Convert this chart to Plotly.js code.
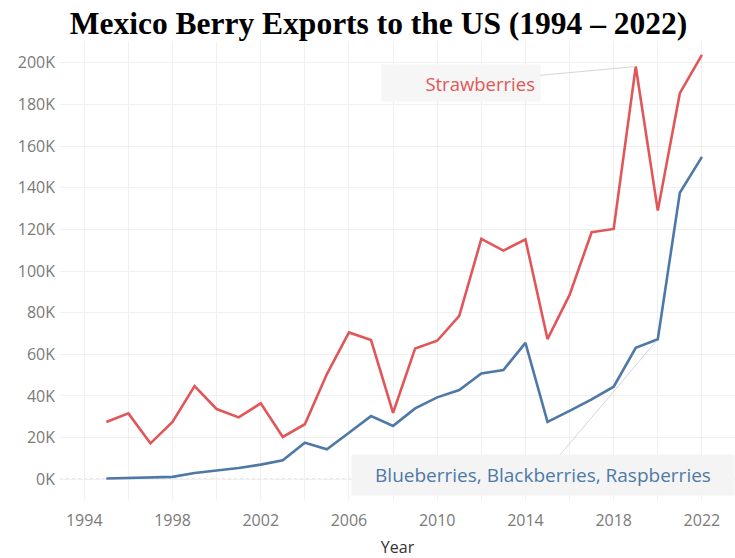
<!DOCTYPE html>
<html>
<head>
<meta charset="utf-8">
<script src="https://cdn.plot.ly/plotly-3.0.1.min.js"></script>
<style>html,body{margin:0;padding:0;background:#fff;}#chart{width:735px;height:558px;}</style>
</head>
<body>
<div id="chart"></div>
<script>
const years = [1995,1996,1997,1998,1999,2000,2001,2002,2003,2004,2005,2006,2007,2008,2009,2010,2011,2012,2013,2014,2015,2016,2017,2018,2019,2020,2021,2022];
const strawberries = [27.5,31.6,17.2,27.5,44.7,33.7,29.7,36.4,20.3,26.4,50.5,70.5,66.8,31.9,62.8,66.5,78.4,115.4,109.8,115.2,67.3,88.5,118.6,120.2,198.2,129.0,185.4,203.8].map(v=>v*1000);
const otherBerries = [0.3,0.6,0.7,1.1,3.0,4.2,5.4,7.0,9.1,17.5,14.4,22.3,30.3,25.6,34.0,39.3,42.8,50.8,52.4,65.5,27.5,32.8,38.3,44.4,63.1,67.2,137.6,154.8].map(v=>v*1000);
const seriesNames = ["Strawberries","Blueberries, Blackberries, Raspberries"];
const tickYears = [1994,1998,2002,2006,2010,2014,2018,2022];
const chartTitle = "Mexico Berry Exports to the US (1994 – 2022)";

const red = "#e15759", blue = "#4e79a7";
const tickFont = {family:"Open Sans, sans-serif", size:16, color:"#7a7a7a"};

const traces = [
  {x:years, y:strawberries, name:seriesNames[0], type:"scatter", mode:"lines", line:{color:red, width:2.6}},
  {x:years, y:otherBerries, name:seriesNames[1], type:"scatter", mode:"lines", line:{color:blue, width:2.6}}
];

const iPeak = years.indexOf(2019);
const iBlue = years.indexOf(2020);

const layout = {
  width:735, height:558,
  margin:{l:60, r:0, t:42, b:58},
  paper_bgcolor:"#fff", plot_bgcolor:"#fff",
  showlegend:false,
  title:{text:"<b>"+chartTitle+"</b>", font:{family:"Liberation Serif, Times New Roman, serif", size:31.5, color:"#000"}, x:0.515, xanchor:"center", y:0.978, yanchor:"top"},
  xaxis:{
    range:[1992.9, 2023.5], tickvals:tickYears, ticktext:tickYears.map(String),
    showgrid:true, gridcolor:"#f0f0f0", gridwidth:1,
    minor:{dtick:2, tick0:1994, showgrid:true, gridcolor:"#f0f0f0", gridwidth:1},
    zeroline:false, showline:false, ticks:"", tickfont:tickFont, ticklabelstandoff:9,
    title:{text:"Year", font:{family:"Open Sans, sans-serif", size:16, color:"#333"}, standoff:13}
  },
  yaxis:{
    range:[-10000, 210000], tickvals:[0,20000,40000,60000,80000,100000,120000,140000,160000,180000,200000],
    ticktext:["0K","20K","40K","60K","80K","100K","120K","140K","160K","180K","200K"],
    showgrid:true, gridcolor:"#f0f0f0", gridwidth:1, zeroline:false, showline:false,
    ticks:"", tickfont:tickFont, ticklabelstandoff:4
  },
  shapes:[
    {type:"line", xref:"paper", yref:"y", x0:0, x1:1, y0:0, y1:0, line:{color:"#b8b8b8", width:1, dash:"dot"}, layer:"below"}
  ],
  annotations:[
    {x:years[iPeak], y:strawberries[iPeak], xref:"x", yref:"y", text:seriesNames[0],
     showarrow:true, arrowhead:0, arrowwidth:1, arrowcolor:"#d6d6d6", ax:-175, ay:16,
     font:{family:"Open Sans, sans-serif", size:18.5, color:red},
     bgcolor:"#f6f6f6", width:148, height:26, align:"right", borderpad:5, standoff:2},
    {x:years[iBlue], y:otherBerries[iBlue], xref:"x", yref:"y", text:seriesNames[1],
     showarrow:true, arrowhead:0, arrowwidth:1, arrowcolor:"#d6d6d6", ax:-115, ay:136,
     font:{family:"Open Sans, sans-serif", size:19, color:blue},
     bgcolor:"#f4f4f4", width:372, height:30, align:"center", borderpad:5, standoff:2}
  ]
};

Plotly.newPlot("chart", traces, layout, {displayModeBar:false, staticPlot:true});
</script>
</body>
</html>
